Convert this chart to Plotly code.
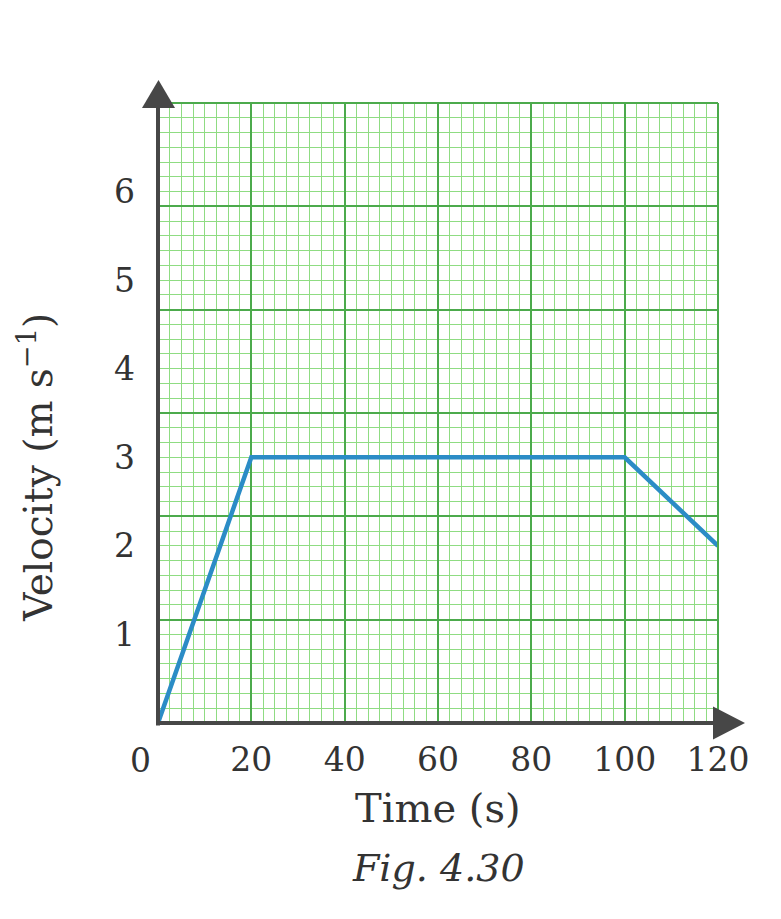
import plotly.graph_objects as go

# Data
time_s = [0, 20, 100, 120]
velocity = [0, 3, 3, 2]
x_tick_vals = [0, 20, 40, 60, 80, 100, 120]
x_tick_labels = ["0", "20", "40", "60", "80", "100", "120"]
y_tick_vals = [1, 2, 3, 4, 5, 6]
y_tick_labels = ["1", "2", "3", "4", "5", "6"]

FONT = "DejaVu Serif"
TXT = "#333333"
AXC = "#474747"
MAJ = "#4caa4c"
MIN = "#8fdc82"

fig = go.Figure()

# invisible trace on label axis
fig.add_trace(go.Scatter(x=[0, 120], y=[0, 7], yaxis="y2", mode="markers",
                         marker=dict(opacity=0), hoverinfo="skip", showlegend=False))

fig.add_trace(go.Scatter(x=time_s, y=velocity, mode="lines",
                         line=dict(color="#2b8cc6", width=4.5),
                         showlegend=False, cliponaxis=False))

fig.update_layout(
    width=781, height=919,
    margin=dict(l=158, r=63, t=103, b=196),
    plot_bgcolor="white", paper_bgcolor="white",
    font=dict(family=FONT, color=TXT),
    xaxis=dict(range=[0, 120], tickvals=x_tick_vals[1:], ticktext=x_tick_labels[1:],
               showgrid=True, gridcolor=MAJ, gridwidth=2, zeroline=False,
               showline=False, ticks="", ticklabelstandoff=14,
               tickfont=dict(size=33, family=FONT, color=TXT),
               minor=dict(dtick=2.5, showgrid=True, gridcolor=MIN, gridwidth=1.3)),
    yaxis=dict(range=[0, 7], tick0=0, dtick=7/6, showticklabels=False,
               showgrid=True, gridcolor=MAJ, gridwidth=2, zeroline=False,
               showline=False, ticks="",
               minor=dict(tick0=0, dtick=1/6, showgrid=True, gridcolor=MIN, gridwidth=1.3)),
    yaxis2=dict(range=[0, 7], overlaying="y", side="left", tickvals=y_tick_vals,
                ticktext=y_tick_labels, showgrid=False, zeroline=False, showline=False,
                ticks="", ticklabelstandoff=22,
                tickfont=dict(size=33, family=FONT, color=TXT)),
)

shapes = [
    # top & right edge grid lines
    dict(type="line", xref="paper", yref="paper", x0=0, x1=1, y0=1, y1=1,
         line=dict(color=MAJ, width=2), layer="above"),
    dict(type="line", xref="paper", yref="paper", x0=1, x1=1, y0=0, y1=1,
         line=dict(color=MAJ, width=2), layer="above"),
    # axes
    dict(type="line", xref="paper", yref="paper", x0=0, x1=0, y0=-0.004, y1=1.0,
         line=dict(color=AXC, width=4), layer="above"),
    dict(type="line", xref="paper", yref="paper", x0=0, x1=1.0, y0=0, y1=0,
         line=dict(color=AXC, width=4), layer="above"),
    dict(type="path", xref="paper", yref="paper", xsizemode="pixel", ysizemode="pixel",
         xanchor=0, yanchor=1, path="M -16,-5 L 17,-5 L 0.5,23 Z",
         fillcolor=AXC, line=dict(width=0), layer="above"),
    dict(type="path", xref="paper", yref="paper", xsizemode="pixel", ysizemode="pixel",
         xanchor=1, yanchor=0, path="M -5,16.5 L -5,-16.5 L 27,0 Z",
         fillcolor=AXC, line=dict(width=0), layer="above"),
]
fig.update_layout(shapes=shapes)

annotations = [
    dict(text=x_tick_labels[0], xref="x", x=x_tick_vals[0], yref="paper", y=0,
         xanchor="center", yanchor="middle", yshift=-37, xshift=-18, showarrow=False,
         font=dict(size=33, family=FONT, color=TXT)),
    dict(text="Time (s)", xref="paper", x=0.5, yref="paper", y=-0.137,
         xanchor="center", yanchor="middle",
         showarrow=False, font=dict(size=40, family=FONT, color=TXT)),
    dict(text="Velocity (m s<sup>\u22121</sup>)", xref="paper", x=-0.218,
         yref="paper", y=0.413, textangle=-90, showarrow=False,
         xanchor="center", yanchor="middle",
         font=dict(size=39, family=FONT, color=TXT)),
    dict(text="<i>Fig. 4.30</i>", xref="paper", x=0.5, yref="paper", y=-0.234,
         xanchor="center", yanchor="middle",
         showarrow=False, font=dict(size=38, family=FONT, color=TXT)),
]
fig.update_layout(annotations=annotations)

fig.write_html("out.html")
